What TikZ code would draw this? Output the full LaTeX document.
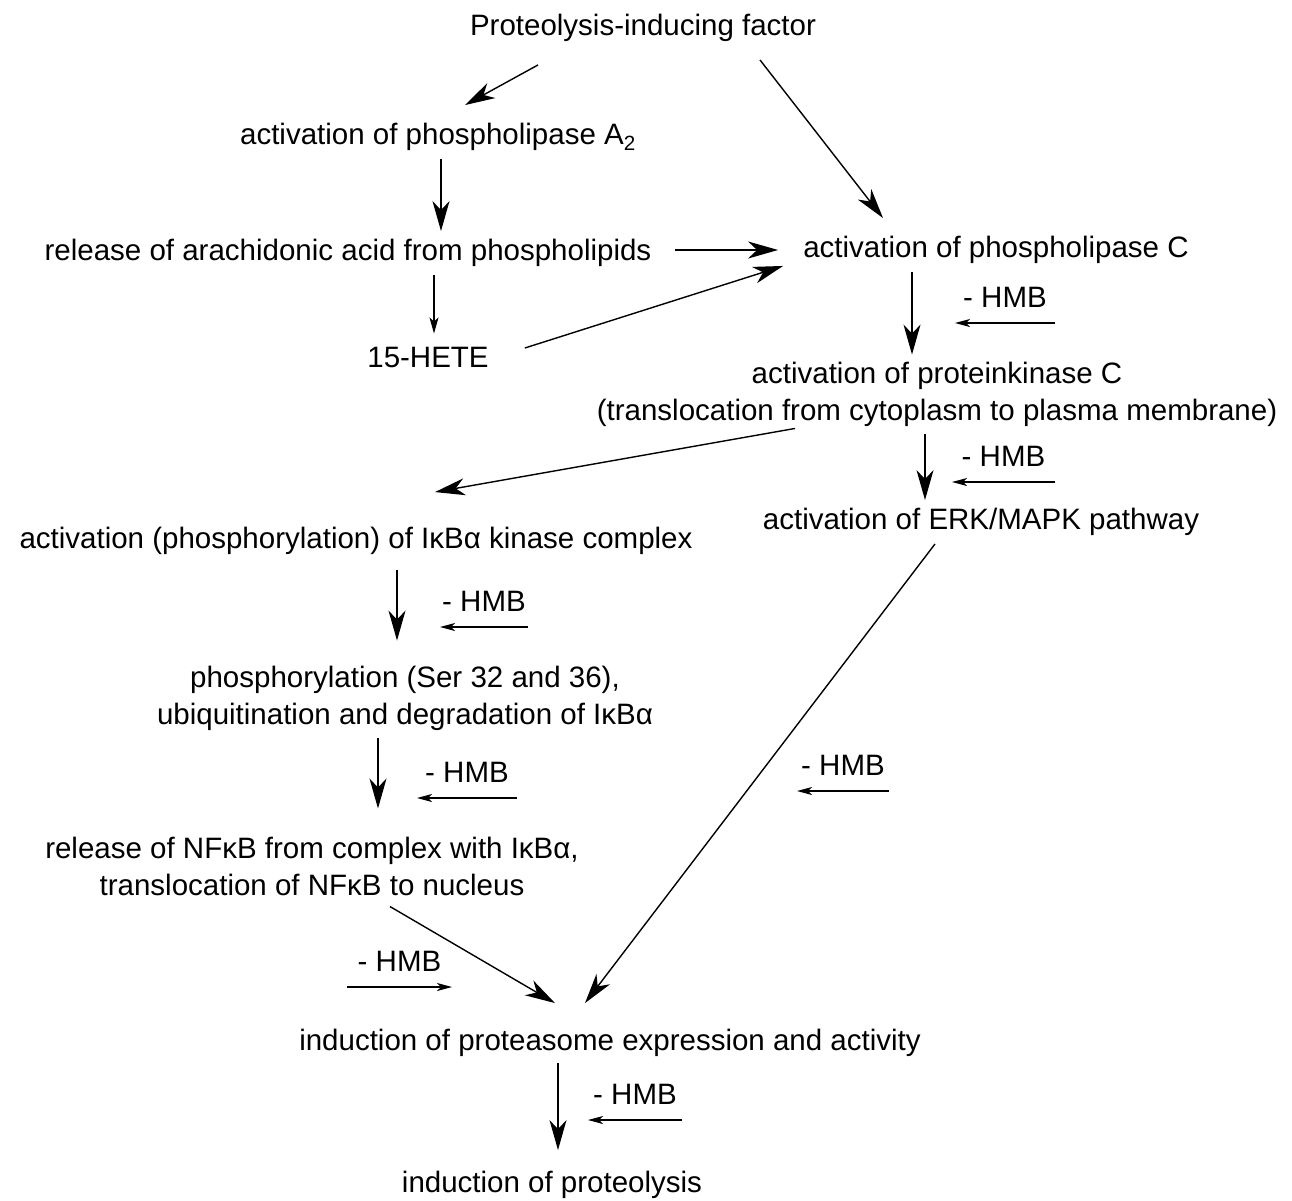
\documentclass[tikz,border=0pt]{standalone}
\usepackage{fontspec}
\setmainfont{Liberation Sans}
\usetikzlibrary{arrows.meta, positioning}

\begin{document}
\begin{tikzpicture}[
    x=1pt, y=-1pt,
    stage/.style={align=center, inner sep=8pt, font=\fontsize{29.5}{37}\selectfont},
    hmb/.style={inner sep=0pt, font=\fontsize{29.5}{37}\selectfont},
    arrow/.style={-{Stealth[length=30pt, width=17pt, inset=9pt]}, line width=1.4pt},
    smallarrow/.style={-{Stealth[length=16pt, width=9pt, inset=4pt]}, line width=1.2pt},
    inhib/.style={-{Stealth[length=15pt, width=8pt, inset=4pt]}, line width=1.2pt}
]
\useasboundingbox (0,0) rectangle (1292,1200);

\node[stage] (pif) at (643,28) {Proteolysis-inducing factor};
\node[stage] (pla) at (438,137) {activation of phospholipase A\textsubscript{2}};
\node[stage] (arach) at (348,253) {release of arachidonic acid from phospholipids};
\node[stage] (hete) at (428,357) {15-HETE};
\node[stage] (plc) at (996,250) {activation of phospholipase C};
\node[stage] (pkc) at (937,394) {activation of proteinkinase C\\(translocation from cytoplasm to plasma membrane)};
\node[stage] (erk) at (981,522) {activation of ERK/MAPK pathway};
\node[stage] (ikk) at (356,541) {activation (phosphorylation) of IκBα kinase complex};
\node[stage] (ikba) at (405,698) {phosphorylation (Ser 32 and 36),\\ubiquitination and degradation of IκBα};
\node[stage] (nfkb) at (312,866) {release of NFκB from complex with IκBα,\\translocation of NFκB to nucleus};
\node[stage] (proteasome) at (610,1043) {induction of proteasome expression and activity};
\node[stage] (proteolysis) at (552,1185) {induction of proteolysis};

\draw[arrow] ([xshift=-105pt,yshift=-15pt]pif.south) -- ([xshift=27pt,yshift=10pt]pla.north);
\draw[arrow] ([xshift=117pt,yshift=-10pt]pif.south) -- ([xshift=-113pt,yshift=10pt]plc.north);
\draw[arrow] ([xshift=3pt]pla.south) -- ([xshift=93pt]arach.north);
\draw[arrow] ([xshift=15pt,yshift=3pt]arach.east) -- ([xshift=-17pt]plc.west);
\draw[smallarrow] ([xshift=86pt]arach.south) -- ([xshift=6pt,yshift=5pt]hete.north);
\draw[arrow] ([xshift=28pt,yshift=9pt]hete.east) -- ([xshift=-12pt,yshift=6pt]plc.south west);
\draw[arrow] ([xshift=-84pt]plc.south) -- ([xshift=-25pt,yshift=-1pt]pkc.north);
\draw[arrow] ([xshift=-142pt,yshift=6pt]pkc.south) -- ([xshift=79pt,yshift=27pt]ikk.north);
\draw[arrow] ([xshift=-12pt]pkc.south) -- ([xshift=-56pt]erk.north);
\draw[arrow] ([xshift=41pt,yshift=-7pt]ikk.south) -- ([xshift=-8pt,yshift=17pt]ikba.north);
\draw[arrow] ([xshift=-27pt]ikba.south) -- ([xshift=66pt,yshift=20pt]nfkb.north);
\draw[arrow] ([xshift=-46pt]erk.south) -- ([xshift=-25pt,yshift=18pt]proteasome.north);
\draw[arrow] ([xshift=78pt,yshift=-3pt]nfkb.south) -- ([xshift=-55pt,yshift=18pt]proteasome.north);
\draw[arrow] ([xshift=-52pt,yshift=2pt]proteasome.south) -- ([xshift=6pt,yshift=13pt]proteolysis.north);

\coordinate (in1) at (1055,323);
\coordinate (in2) at (1055,482);
\coordinate (in3) at (528,627);
\coordinate (in4) at (517,798);
\coordinate (in5) at (889,791);
\coordinate (in6) at (347,987);
\coordinate (in7) at (682,1120);

\draw[inhib] (in1) -- ++(-100,0) node[hmb, midway, above=15pt] (hmb1) {- HMB};
\draw[inhib] (in2) -- ++(-103,0) node[hmb, midway, above=15pt] (hmb2) {- HMB};
\draw[inhib] (in3) -- ++(-88,0) node[hmb, midway, above=15pt] (hmb3) {- HMB};
\draw[inhib] (in4) -- ++(-100,0) node[hmb, midway, above=15pt] (hmb4) {- HMB};
\draw[inhib] (in5) -- ++(-92,0) node[hmb, midway, above=15pt] (hmb5) {- HMB};
\draw[inhib] (in6) -- ++(105,0) node[hmb, midway, above=15pt] (hmb6) {- HMB};
\draw[inhib] (in7) -- ++(-94,0) node[hmb, midway, above=15pt] (hmb7) {- HMB};
\end{tikzpicture}
\end{document}
